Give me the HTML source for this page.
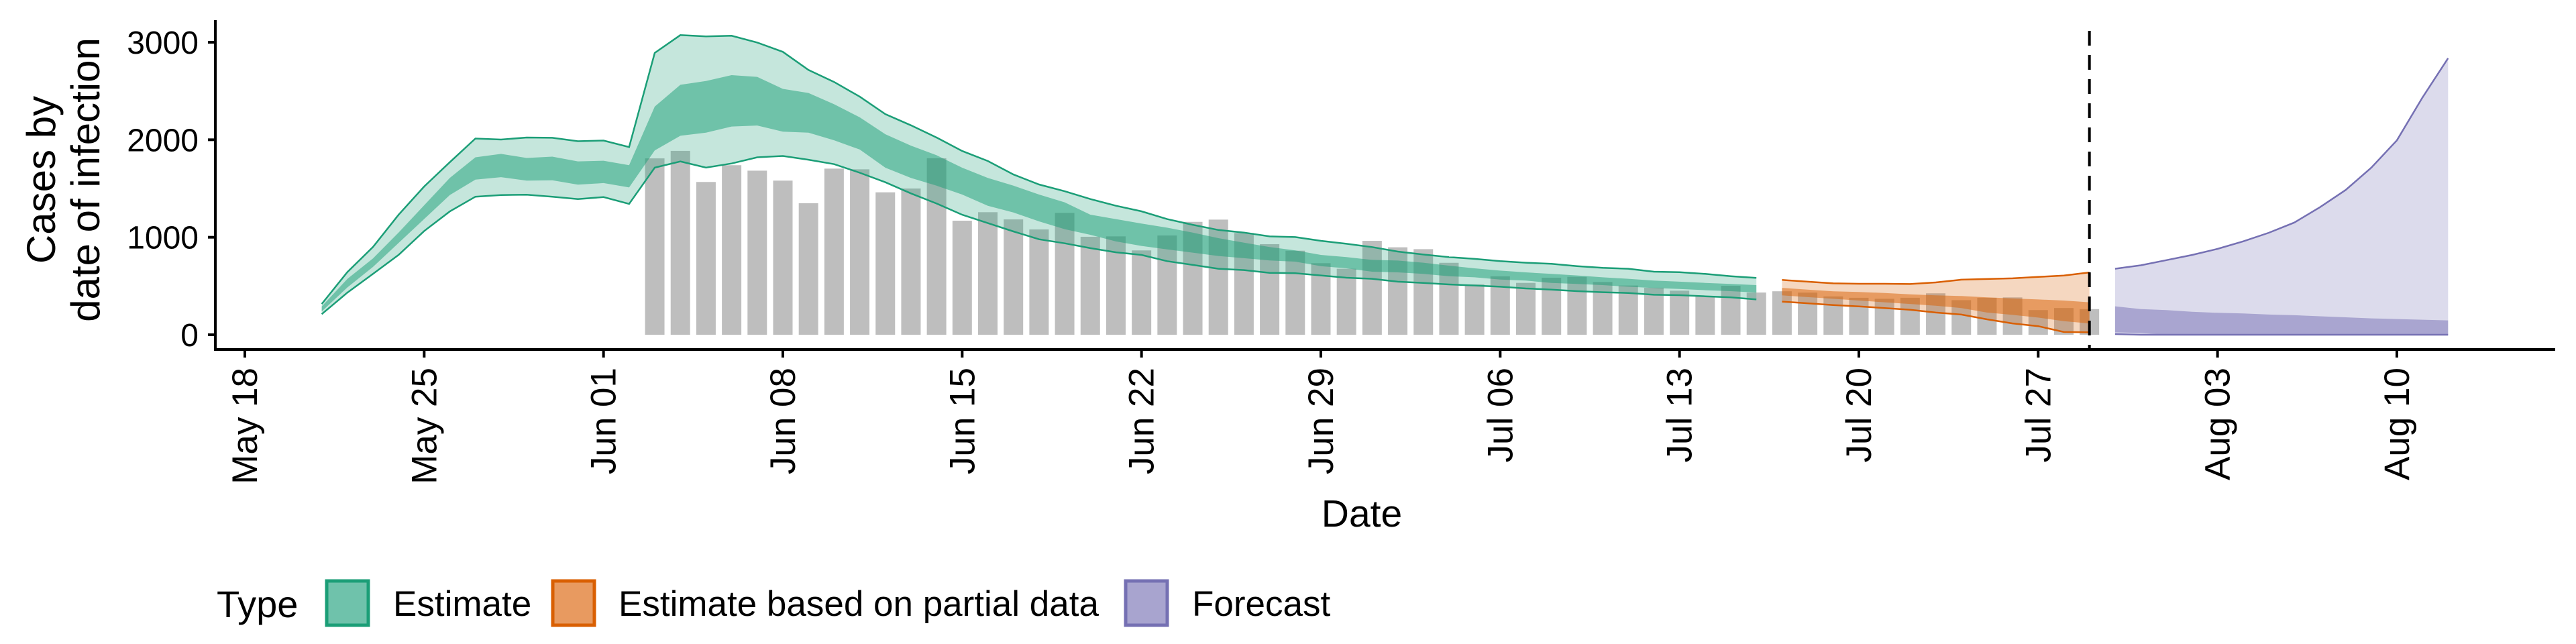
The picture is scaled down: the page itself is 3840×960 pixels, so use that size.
<!DOCTYPE html>
<html><head><meta charset="utf-8"><style>
html,body{margin:0;padding:0;background:#fff;}
svg{display:block;font-family:"Liberation Sans",Arial,sans-serif;}
</style></head><body>
<svg id="chart" width="3840" height="960" viewBox="0 0 3840 960">
<g id="bars"></g>
<g id="bands"></g>
<g id="axes"></g>
<g id="legend"></g>
</svg>
<script>
// ---- data ----
const estStart = 3; // days after May 18 (May 21)
const estOuterUpper = [316,643,900,1230,1521,1770,2013,2002,2023,2020,1985,1992,1925,2891,3074,3060,3067,2997,2902,2716,2593,2442,2263,2148,2023,1885,1782,1644,1541,1472,1392,1323,1266,1186,1128,1075,1048,1009,1002,963,933,899,853,823,796,778,755,739,727,704,686,677,647,642,624,601,583];
const estOuterLower = [211,432,625,819,1064,1265,1416,1433,1437,1416,1391,1412,1342,1714,1778,1714,1757,1820,1834,1795,1750,1662,1564,1450,1346,1231,1145,1060,979,938,888,846,819,755,716,677,663,635,631,608,585,574,544,532,516,505,493,475,463,447,436,429,410,406,394,383,362];
const estInnerUpper = [290,573,783,1047,1328,1609,1820,1855,1813,1827,1778,1785,1739,2340,2564,2603,2663,2645,2522,2480,2364,2230,2057,1940,1841,1713,1609,1529,1438,1358,1232,1186,1140,1098,1048,991,945,899,865,819,796,768,761,739,709,681,658,640,624,608,589,574,555,544,532,521,509];
const estInnerLower = [239,485,696,941,1187,1433,1591,1616,1581,1584,1539,1556,1511,1890,2041,2073,2136,2146,2083,2073,1995,1900,1713,1609,1529,1438,1323,1254,1163,1083,1025,957,911,876,842,808,785,762,750,704,681,647,640,624,601,589,566,555,532,521,509,493,479,470,457,447,433];
const partStart = 60; // Jul 17
const partOuterUpper = [562,544,527,523,523,520,537,565,572,579,593,607,639];
const partOuterLower = [340,323,305,291,274,256,228,207,158,116,88,28,25];
const partInnerUpper = [481,463,446,439,428,414,404,397,383,372,362,351,333];
const partInnerLower = [404,386,369,351,333,316,298,274,228,204,176,140,116];
const fcStart = 73; // Jul 30
const fcOuterUpper = [677,712,765,818,881,958,1046,1151,1309,1485,1713,1994,2433,2836];
const fcOuterLower = [7,0,0,0,0,0,0,0,0,0,0,0,0,0];
const fcInnerUpper = [292,263,253,235,225,218,207,200,189,179,168,161,154,147];
const fcInnerLower = [25,18,0,0,0,0,0,0,0,0,0,0,0,0];
const barStart = 16; // Jun 3
const barValues = [1809,1886,1567,1739,1683,1581,1349,1704,1697,1461,1500,1810,1170,1257,1183,1080,1250,1005,1009,865,1018,1158,1181,1044,929,862,734,677,963,897,878,738,516,599,532,585,594,541,505,482,452,399,502,433,446,432,393,379,369,379,425,355,379,383,253,274,263];
const xTickDays = [0,7,14,21,28,35,42,49,56,63,70,77,84];
const xTickLabels = ["May 18","May 25","Jun 01","Jun 08","Jun 15","Jun 22","Jun 29","Jul 06","Jul 13","Jul 20","Jul 27","Aug 03","Aug 10"];
const yTicks = [0,1000,2000,3000];
const forecastDateDay = 72; // Jul 29

// ---- scales ----
const NS = "http://www.w3.org/2000/svg";
const X0 = 365, DX = 38.19;
const x = d => X0 + d * DX;
const y = v => 499 - v * 0.14533;
function mk(tag, attrs, parent){const e=document.createElementNS(NS,tag);for(const k in attrs)e.setAttribute(k,attrs[k]);parent.appendChild(e);return e;}

const barsG = document.getElementById('bars');
barValues.forEach((v,i)=>{
  const d = barStart + i;
  const r = mk('rect',{x:x(d)-14.5,y:y(v),width:29,height:y(0)-y(v),fill:'#bebebe'},barsG);
  
  
});

const bandsG = document.getElementById('bands');
function band(start, up, lo, fill, op, name){
  let p = up.map((v,i)=>`${i?'L':'M'}${x(start+i).toFixed(1)},${y(v).toFixed(1)}`).join('');
  for(let i=lo.length-1;i>=0;i--) p += `L${x(start+i).toFixed(1)},${y(lo[i]).toFixed(1)}`;
  const e = mk('path',{d:p+'Z',fill:fill,'fill-opacity':op},bandsG);
  
  
}
function line(start, vals, col, name){
  const p = vals.map((v,i)=>`${i?'L':'M'}${x(start+i).toFixed(1)},${y(v).toFixed(1)}`).join('');
  const e = mk('path',{d:p,fill:'none',stroke:col,'stroke-width':2.5},bandsG);
  
  
}
band(estStart,estOuterUpper,estOuterLower,'#1b9e77',0.254,'estimate-90-band');
band(estStart,estInnerUpper,estInnerLower,'#1b9e77',0.504,'estimate-50-band');
line(estStart,estOuterUpper,'#1b9e77','estimate-upper-line');
line(estStart,estOuterLower,'#1b9e77','estimate-lower-line');
band(partStart,partOuterUpper,partOuterLower,'#d95f02',0.25,'partial-90-band');
band(partStart,partInnerUpper,partInnerLower,'#d95f02',0.5,'partial-50-band');
line(partStart,partOuterUpper,'#d95f02','partial-upper-line');
line(partStart,partOuterLower,'#d95f02','partial-lower-line');
band(fcStart,fcOuterUpper,fcOuterLower,'#7570b3',0.25,'forecast-90-band');
band(fcStart,fcInnerUpper,fcInnerLower,'#7570b3',0.5,'forecast-50-band');
line(fcStart,fcOuterUpper,'#7570b3','forecast-upper-line');
line(fcStart,fcOuterLower,'#7570b3','forecast-lower-line');

const ax = document.getElementById('axes');
let e;
e = mk('line',{x1:x(forecastDateDay),x2:x(forecastDateDay),y1:46,y2:521,stroke:'#000','stroke-width':4,'stroke-dasharray':'22,14'},ax);
 
e = mk('line',{x1:321,x2:321,y1:30,y2:523,stroke:'#000','stroke-width':4},ax);
 
e = mk('line',{x1:319,x2:3809,y1:521,y2:521,stroke:'#000','stroke-width':4},ax);
 
yTicks.forEach(v=>{
  mk('line',{x1:310,x2:321,y1:y(v),y2:y(v),stroke:'#000','stroke-width':4},ax);
  const t = mk('text',{x:296,y:y(v)+17,'text-anchor':'end','font-size':48,fill:'#000'},ax);
  t.textContent = v;
  
  
});
xTickDays.forEach((d,i)=>{
  mk('line',{x1:x(d),x2:x(d),y1:521,y2:533,stroke:'#000','stroke-width':4},ax);
  const t = mk('text',{transform:`translate(${x(d)+18},548) rotate(-90)`,'text-anchor':'end','font-size':53,fill:'#000'},ax);
  t.textContent = xTickLabels[i];
  
  
});
e = mk('text',{x:2030,y:785,'text-anchor':'middle','font-size':57,fill:'#000'},ax);
e.textContent='Date';
 
e = mk('text',{transform:'translate(82,268) rotate(-90)','text-anchor':'middle','font-size':60,fill:'#000'},ax);
 
const t1 = mk('tspan',{x:0,dy:0},e); t1.textContent='Cases by';
const t2 = mk('tspan',{x:0,dy:66},e); t2.textContent='date of infection';

const lg = document.getElementById('legend');
e = mk('text',{x:323,y:920,'font-size':56,fill:'#000'},lg);
e.textContent='Type';
 
const entries = [
  {bx:487,tx:586,fill:'#6fc2ab',stroke:'#1b9e77',label:'Estimate',name:'legend-entry-estimate'},
  {bx:824,tx:922,fill:'#e89a60',stroke:'#d95f02',label:'Estimate based on partial data',name:'legend-entry-partial'},
  {bx:1678,tx:1777,fill:'#a8a4cf',stroke:'#7570b3',label:'Forecast',name:'legend-entry-forecast'}
];
entries.forEach(en=>{
  const g = mk('g',{},lg);
  
  
  mk('rect',{x:en.bx,y:866,width:62,height:66,fill:en.fill,stroke:en.stroke,'stroke-width':5},g);
  const t = mk('text',{x:en.tx,y:918,'font-size':53,fill:'#000'},g);
  t.textContent = en.label;
});
</script>
</body></html>
